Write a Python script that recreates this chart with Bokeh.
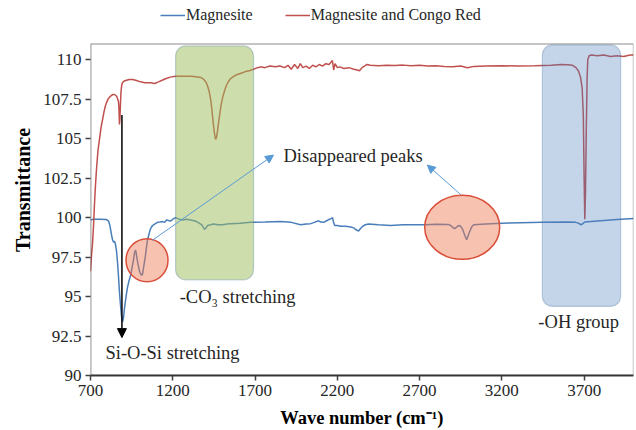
from bokeh.plotting import figure
from bokeh.models import (Legend, LegendItem, FixedTicker, BoxAnnotation, Arrow,
                          NormalHead, Range1d, Label)
from bokeh.embed import file_html
from bokeh.resources import INLINE

# ---------------- data ----------------
x_ticks = [700, 1200, 1700, 2200, 2700, 3200, 3700]
y_ticks = [90, 92.5, 95, 97.5, 100, 102.5, 105, 107.5, 110]

blue_wn = [700, 718, 760, 795, 809, 818, 828, 834, 840, 846, 852, 858, 864, 870, 876, 882, 888, 895,
           901, 907, 916, 925, 934, 943, 952, 961, 968, 974, 980, 986, 992, 998, 1004, 1010, 1016,
           1022, 1028, 1034, 1041, 1047, 1053, 1059, 1065, 1077, 1092, 1107, 1122, 1138, 1150, 1162,
           1174, 1186, 1200, 1217, 1235, 1259, 1285, 1308, 1330, 1344, 1360, 1375, 1385, 1393, 1402,
           1411, 1430, 1448, 1475, 1503, 1530, 1551, 1610, 1673, 1760, 1855, 1920, 1977, 2010, 2038,
           2060, 2086, 2100, 2117, 2135, 2153, 2165, 2171, 2177, 2184, 2200, 2220, 2250, 2281, 2300,
           2311, 2320, 2329, 2340, 2354, 2370, 2390, 2450, 2524, 2600, 2664, 2737, 2800, 2877, 2886,
           2895, 2904, 2913, 2925, 2937, 2950, 2962, 2974, 2986, 2995, 3004, 3016, 3029, 3100, 3200,
           3314, 3450, 3600, 3649, 3665, 3679, 3690, 3703, 3800, 3900, 4000]
blue_t = [99.85, 99.9, 99.9, 99.88, 99.8, 99.5, 98.9, 98.6, 98.45, 98.5, 98.3, 97.9, 97.2, 96.3, 95.3,
          94.5, 93.8, 93.4, 93.7, 94.3, 95.0, 95.6, 96.0, 96.3, 96.8, 97.3, 97.8, 97.95, 97.6, 97.2,
          96.9, 96.6, 96.45, 96.35, 96.4, 96.8, 97.2, 97.6, 98.2, 98.6, 98.85, 99.1, 99.3, 99.5, 99.6,
          99.7, 99.72, 99.75, 99.7, 99.85, 99.82, 99.78, 99.9, 100.0, 99.92, 99.85, 99.9, 99.85, 99.8,
          99.75, 99.65, 99.55, 99.4, 99.25, 99.35, 99.5, 99.55, 99.6, 99.55, 99.55, 99.6, 99.62, 99.65,
          99.7, 99.72, 99.75, 99.7, 99.55, 99.6, 99.62, 99.7, 99.8, 99.72, 99.7, 99.8, 99.9, 99.95,
          100.0, 99.7, 99.5, 99.5, 99.45, 99.45, 99.4, 99.35, 99.25, 99.2, 99.15, 99.3, 99.45, 99.55,
          99.6, 99.55, 99.5, 99.55, 99.55, 99.55, 99.58, 99.56, 99.52, 99.45, 99.35, 99.3, 99.4, 99.5,
          99.45, 99.25, 98.9, 98.6, 98.85, 99.1, 99.4, 99.55, 99.6, 99.65, 99.68, 99.7, 99.72, 99.7,
          99.65, 99.55, 99.6, 99.72, 99.8, 99.88, 99.95]

red_wn = [700, 706, 712, 718, 724, 730, 736, 745, 755, 764, 773, 782, 791, 800, 809, 818, 828, 837,
          846, 852, 858, 864, 870, 873, 876, 879, 882, 885, 888, 891, 895, 905, 919, 935, 955, 975,
          1004, 1030, 1065, 1090, 1113, 1135, 1156, 1185, 1217, 1260, 1308, 1340, 1369, 1383, 1393,
          1403, 1411, 1421, 1430, 1436, 1442, 1448, 1454, 1460, 1466, 1472, 1478, 1484, 1493, 1503,
          1515, 1527, 1540, 1551, 1570, 1588, 1615, 1642, 1665, 1691, 1715, 1734, 1760, 1790, 1825,
          1850, 1880, 1900, 1920, 1940, 1960, 1975, 1990, 2010, 2030, 2050, 2070, 2090, 2110, 2130,
          2150, 2162, 2170, 2178, 2186, 2200, 2215, 2240, 2270, 2300, 2320, 2335, 2350, 2365, 2380,
          2400, 2450, 2500, 2550, 2600, 2650, 2700, 2750, 2800, 2850, 2900, 2950, 2990, 3030, 3100,
          3200, 3300, 3400, 3500, 3560, 3600, 3630, 3650, 3665, 3678, 3688, 3695, 3700, 3704, 3708,
          3713, 3718, 3722, 3730, 3745, 3780, 3820, 3860, 3900, 3940, 3980, 4000]
red_t = [96.6, 97.6, 98.3, 99.4, 100.8, 102.0, 103.0, 104.2, 105.0, 105.7, 106.2, 106.7, 107.1, 107.35,
         107.55, 107.65, 107.75, 107.8, 107.8, 107.75, 107.7, 107.55, 107.35, 106.9, 105.9, 106.3,
         107.2, 107.9, 108.25, 108.45, 108.55, 108.65, 108.7, 108.75, 108.75, 108.7, 108.6, 108.55,
         108.55, 108.5, 108.6, 108.7, 108.8, 108.9, 108.95, 108.95, 108.95, 108.92, 108.88, 108.8,
         108.7, 108.55, 108.35, 108.0, 107.5, 107.0, 106.4, 105.8, 105.3, 104.95, 105.1, 105.5, 106.0,
         106.45, 107.1, 107.6, 108.05, 108.4, 108.65, 108.8, 108.95, 109.05, 109.15, 109.25, 109.3,
         109.4, 109.5, 109.55, 109.5, 109.6, 109.55, 109.6, 109.5, 109.65, 109.4, 109.7, 109.45,
         109.75, 109.5, 109.6, 109.45, 109.65, 109.55, 109.7, 109.6, 109.75, 109.7, 109.85, 109.95,
         109.35, 109.75, 109.5, 109.55, 109.45, 109.5, 109.4, 109.35, 109.3, 109.5, 109.6, 109.7,
         109.65, 109.62, 109.65, 109.63, 109.66, 109.62, 109.65, 109.6, 109.62, 109.58, 109.55, 109.6,
         109.5, 109.58, 109.6, 109.62, 109.6, 109.62, 109.65, 109.7, 109.68, 109.65, 109.5, 109.3,
         108.9, 108.2, 106.5, 102.5, 99.9, 101.5, 105.5, 108.8, 110.0, 110.25, 110.3, 110.25, 110.3,
         110.2, 110.25, 110.2, 110.3, 110.3]

FONT = "Liberation Serif"
TXT = "#262626"

# frame extends above the drawn plot box so that the legend (inside the frame) sits on top
p = figure(width=636, height=430, output_backend="svg", toolbar_location=None,
           x_range=Range1d(700, 4000), y_range=Range1d(90, 113.5),
           min_border_left=90, min_border_right=3, min_border_top=4, min_border_bottom=51)
p.background_fill_color = "white"
p.border_fill_color = "white"
p.outline_line_color = None
p.xgrid.visible = False
p.ygrid.visible = False

for ax in (p.xaxis, p.yaxis):
    ax.axis_line_color = "#404040"
    ax.axis_line_width = 2
    ax.major_tick_line_color = "#404040"
    ax.major_tick_line_width = 1.5
    ax.major_tick_out = 5
    ax.major_tick_in = 0
    ax.minor_tick_line_color = None
    ax.major_label_text_font = FONT
    ax.major_label_text_font_size = "17px"
    ax.major_label_text_color = TXT
    ax.axis_label_text_font = FONT
    ax.axis_label_text_font_style = "bold"
    ax.axis_label_text_color = "black"

p.yaxis.axis_line_color = None
p.xaxis.axis_label_text_font_size = "18.5px"
p.yaxis.axis_label_text_font_size = "20px"
p.xaxis.ticker = FixedTicker(ticks=x_ticks)
p.yaxis.ticker = FixedTicker(ticks=y_ticks)
p.xaxis.axis_label = "Wave number (cm\u207b\u00b9)"
p.yaxis.axis_label = "Transmittance"
p.xaxis.major_label_standoff = 4
p.xaxis.axis_label_standoff = 9
p.yaxis.major_label_standoff = 4
p.yaxis.axis_label_standoff = 6

blue_r = p.line(blue_wn, blue_t, line_color="#4a7ebb", line_width=1.5)
red_r = p.line(red_wn, red_t, line_color="#c0504d", line_width=1.5)

# plot-area border (data box 700-4000 x 90-111)
p.add_layout(BoxAnnotation(left=700, right=4000, bottom=90, top=111,
                           fill_color=None, fill_alpha=0, line_color="black", line_width=1.5))
p.add_layout(BoxAnnotation(left=700, right=700, bottom=90, top=111,
                           fill_color=None, fill_alpha=0, line_color="#404040", line_width=2))

# highlight boxes
p.add_layout(BoxAnnotation(left=1217, right=1691, bottom=96.06, top=110.875,
                           fill_color="#9bbb59", fill_alpha=0.5, border_radius=10,
                           line_color="#41719c", line_width=1.2))
p.add_layout(BoxAnnotation(left=3446, right=3922, bottom=94.375, top=110.94,
                           fill_color="#4f81bd", fill_alpha=0.33, border_radius=10,
                           line_color="#41719c", line_width=1.2))

# circles
p.ellipse(x=[1043.5], y=[97.3], width=42, height=43, width_units="screen", height_units="screen",
          fill_color="#f07850", fill_alpha=0.45, line_color="#d9503a", line_width=1.5)
p.ellipse(x=[2959], y=[99.39], width=75, height=64, width_units="screen", height_units="screen",
          fill_color="#f07850", fill_alpha=0.45, line_color="#d9503a", line_width=1.5)

# arrows
p.add_layout(Arrow(end=NormalHead(size=9, fill_color="black", line_color="black"),
                   x_start=891, y_start=106.5, x_end=891, y_end=92.4,
                   line_color="black", line_width=1.5))
p.add_layout(Arrow(end=NormalHead(size=8, fill_color="#5b9bd5", line_color="#5b9bd5"),
                   x_start=1075, y_start=98.56, x_end=1812, y_end=103.96,
                   line_color="#5b9bd5", line_width=1))
p.add_layout(Arrow(end=NormalHead(size=8, fill_color="#5b9bd5", line_color="#5b9bd5"),
                   x_start=2950, y_start=101.46, x_end=2747, y_end=103.33,
                   line_color="#5b9bd5", line_width=1))

# texts
def lab(x, y, t, align="left"):
    p.add_layout(Label(x=x, y=y, text=t, text_font=FONT, text_font_size="18.5px",
                       text_color=TXT, text_align=align, text_baseline="middle"))

lab(1873, 103.9, "Disappeared peaks")
lab(1594, 95.0, "-CO\u2083 stretching", "center")
lab(3667, 93.4, "-OH group", "center")
lab(791, 91.44, "Si-O-Si stretching")

legend = Legend(items=[LegendItem(label="Magnesite", renderers=[blue_r]),
                       LegendItem(label="Magnesite and Congo Red", renderers=[red_r])],
                orientation="horizontal", location=(70, 350),
                border_line_color=None, background_fill_alpha=0,
                label_text_font=FONT, label_text_font_size="16px", label_text_color=TXT,
                glyph_width=25, label_standoff=1, spacing=32, padding=0, margin=0)
p.add_layout(legend, "center")

open("out.html", "w").write(file_html(p, INLINE))
